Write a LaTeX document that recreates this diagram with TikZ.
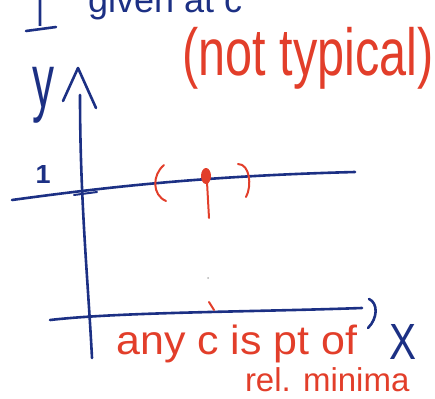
\documentclass[tikz,border=0pt]{standalone}
\usepackage{fontspec}
\setmainfont{Liberation Sans}
\definecolor{inkblue}{RGB}{28,48,132}
\definecolor{inkred}{RGB}{226,62,42}
\newcommand\fitt[3]{\resizebox*{#1pt}{#2pt}{#3}}
\begin{document}
\begin{tikzpicture}[x=1pt,y=-1pt,
  bluepen/.style={draw=inkblue,line width=2.6pt,line cap=round,line join=round},
  redpen/.style={draw=inkred,line width=2pt,line cap=round,line join=round},
  bluetext/.style={text=inkblue,inner sep=0pt,outer sep=0pt},
  redtext/.style={text=inkred,inner sep=0pt,outer sep=0pt}]
\useasboundingbox (0,0) rectangle (435,398);
\clip (0,0) rectangle (435,398);
% top (cut-off) heading
\node[bluetext,anchor=base west] (head1) at (36,27) {\fitt{8}{40}{I}};
\draw[bluepen] (26,31) -- (56,27);
\node[bluetext,anchor=base west] (head2) at (88,13) {\fontsize{36}{40}\selectfont given at c};
% (not typical)
\node[redtext] (nt) at (308,58) {\fitt{251}{62}{(not typical)}};
% y axis
\coordinate (ytop) at (80,95);
\coordinate (ybot) at (92,358);
\draw[bluepen] (ytop) .. controls (80,200) and (88,280) .. (ybot);
\draw[bluepen] (63,101) -- (78,68) -- (96,108);
\node[bluetext] (ylab) at (43,95) {\fitt{22}{56}{y}};
% level y=1
\node[bluetext] (one) at (43,174) {\fitt{15}{18}{\textbf{1}}};
\coordinate (l1) at (12,200);
\coordinate (l2) at (355,172);
\draw[bluepen] (l1) .. controls (100,188) and (200,176) .. (l2);
\draw[bluepen,line width=2pt] (74,195) -- (97,192);
% red interval on the line
\draw[redpen] (164,165) .. controls (152,175) and (152,195) .. (166,201);
\draw[redpen] (238,164) .. controls (250,164) and (252,186) .. (246,197);
\fill[inkred] (206,176) ellipse (5 and 8);
\draw[redpen] (207,182) -- (209,218);
\fill[gray!60] (208,278) circle (1);
% x axis
\coordinate (x1) at (50,320);
\coordinate (x2) at (362,308);
\draw[bluepen] (x1) .. controls (120,312) and (250,312) .. (x2);
\draw[bluepen] (369,299) .. controls (378,303) and (378,318) .. (368,328);
\draw[redpen] (209,302) -- (214,310);
\node[bluetext] (xlab) at (403,342) {\fitt{27}{35}{X}};
% red annotation
\node[redtext] (any) at (237,344) {\fitt{241}{38}{any c is pt of}};
\node[redtext,anchor=base west] (rel) at (245,391) {\fontsize{33}{36}\selectfont rel. minima};
\end{tikzpicture}
\end{document}
